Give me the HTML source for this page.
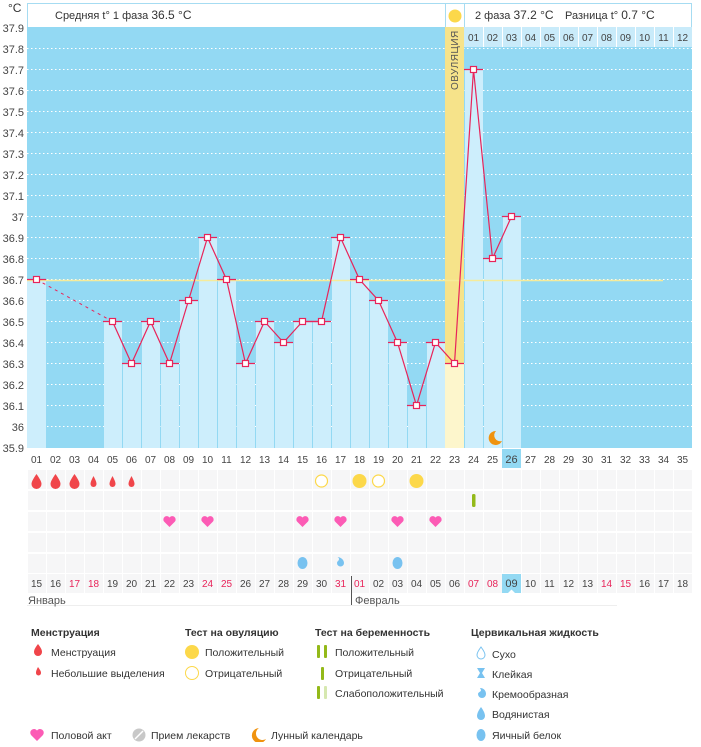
<!DOCTYPE html>
<html><head><meta charset="utf-8"><style>
body{margin:0;background:#fff;width:701px;height:742px;overflow:hidden;font-family:"Liberation Sans","DejaVu Sans",sans-serif;}
svg text{font-family:"Liberation Sans","DejaVu Sans",sans-serif;}
</style></head><body>
<svg width="701" height="742" xmlns="http://www.w3.org/2000/svg">
<!-- header -->
<rect x="27.5" y="3.5" width="664" height="24" fill="#fff" stroke="#a6dcf2"/>
<line x1="445.5" y1="3" x2="445.5" y2="27" stroke="#a6dcf2"/>
<line x1="464.5" y1="3" x2="464.5" y2="27" stroke="#a6dcf2"/>
<circle cx="455" cy="16" r="6.5" fill="#fcd84a"/>
<text x="55" y="19" font-size="11" fill="#333">Средняя t° 1 фаза <tspan font-size="12">36.5 °C</tspan></text>
<text x="475" y="19" font-size="11" fill="#333">2 фаза <tspan font-size="12">37.2 °C</tspan></text>
<text x="565" y="19" font-size="11" fill="#333">Разница t° <tspan font-size="12">0.7 °C</tspan></text>
<text x="8" y="12" font-size="12" fill="#333">°C</text>
<!-- plot bg -->
<rect x="27" y="27" width="665" height="421" fill="#93d9f3"/>
<g stroke="#fff" stroke-dasharray="1.5,2.5" stroke-width="1">
<line x1="27" x2="692" y1="48.5" y2="48.5"/><line x1="27" x2="692" y1="69.5" y2="69.5"/><line x1="27" x2="692" y1="90.5" y2="90.5"/><line x1="27" x2="692" y1="111.5" y2="111.5"/><line x1="27" x2="692" y1="132.5" y2="132.5"/><line x1="27" x2="692" y1="153.5" y2="153.5"/><line x1="27" x2="692" y1="174.5" y2="174.5"/><line x1="27" x2="692" y1="195.5" y2="195.5"/><line x1="27" x2="692" y1="216.5" y2="216.5"/><line x1="27" x2="692" y1="237.5" y2="237.5"/><line x1="27" x2="692" y1="258.5" y2="258.5"/><line x1="27" x2="692" y1="279.5" y2="279.5"/><line x1="27" x2="692" y1="300.5" y2="300.5"/><line x1="27" x2="692" y1="321.5" y2="321.5"/><line x1="27" x2="692" y1="342.5" y2="342.5"/><line x1="27" x2="692" y1="363.5" y2="363.5"/><line x1="27" x2="692" y1="384.5" y2="384.5"/><line x1="27" x2="692" y1="405.5" y2="405.5"/><line x1="27" x2="692" y1="426.5" y2="426.5"/>
</g>
<!-- y labels -->
<g font-size="11" fill="#444" text-anchor="end">
<text x="24" y="32">37.9</text><text x="24" y="53">37.8</text><text x="24" y="74">37.7</text><text x="24" y="95">37.6</text><text x="24" y="116">37.5</text><text x="24" y="137">37.4</text><text x="24" y="158">37.3</text><text x="24" y="179">37.2</text><text x="24" y="200">37.1</text><text x="24" y="221">37</text><text x="24" y="242">36.9</text><text x="24" y="263">36.8</text><text x="24" y="284">36.7</text><text x="24" y="305">36.6</text><text x="24" y="326">36.5</text><text x="24" y="347">36.4</text><text x="24" y="368">36.3</text><text x="24" y="389">36.2</text><text x="24" y="410">36.1</text><text x="24" y="431">36</text><text x="24" y="452">35.9</text>
</g>
<!-- header day row cols 24-35 -->
<rect x="464" y="27" width="228" height="20" fill="#c9ebfa"/>
<g stroke="#fff"><line x1="483.5" y1="27" x2="483.5" y2="47"/><line x1="502.5" y1="27" x2="502.5" y2="47"/><line x1="521.5" y1="27" x2="521.5" y2="47"/><line x1="540.5" y1="27" x2="540.5" y2="47"/><line x1="559.5" y1="27" x2="559.5" y2="47"/><line x1="578.5" y1="27" x2="578.5" y2="47"/><line x1="597.5" y1="27" x2="597.5" y2="47"/><line x1="616.5" y1="27" x2="616.5" y2="47"/><line x1="635.5" y1="27" x2="635.5" y2="47"/><line x1="654.5" y1="27" x2="654.5" y2="47"/><line x1="673.5" y1="27" x2="673.5" y2="47"/></g>
<g font-size="10" fill="#444" text-anchor="middle">
<text x="473.5" y="41">01</text><text x="492.5" y="41">02</text><text x="511.5" y="41">03</text><text x="530.5" y="41">04</text><text x="549.5" y="41">05</text><text x="568.5" y="41">06</text><text x="587.5" y="41">07</text><text x="606.5" y="41">08</text><text x="625.5" y="41">09</text><text x="644.5" y="41">10</text><text x="663.5" y="41">11</text><text x="682.5" y="41">12</text>
</g>
<!-- ovulation strip -->
<rect x="445" y="27" width="19" height="421" fill="#f6e38a"/>
<rect x="445" y="363" width="19" height="85" fill="#fdf6cc"/>
<text transform="translate(458,90) rotate(-90)" font-size="10" fill="#555" letter-spacing="0.5">ОВУЛЯЦИЯ</text>
<!-- bars -->
<g fill="#cdeefc">
<rect x="27" y="279" width="19" height="169"/>
<rect x="104" y="321" width="18" height="127"/><rect x="123" y="363" width="18" height="85"/><rect x="142" y="321" width="18" height="127"/><rect x="161" y="363" width="18" height="85"/><rect x="180" y="300" width="18" height="148"/><rect x="199" y="237" width="18" height="211"/><rect x="218" y="279" width="18" height="169"/><rect x="237" y="363" width="18" height="85"/><rect x="256" y="321" width="18" height="127"/><rect x="275" y="342" width="18" height="106"/><rect x="294" y="321" width="18" height="127"/><rect x="313" y="321" width="18" height="127"/><rect x="332" y="237" width="18" height="211"/><rect x="351" y="279" width="18" height="169"/><rect x="370" y="300" width="18" height="148"/><rect x="389" y="342" width="18" height="106"/><rect x="408" y="405" width="18" height="43"/><rect x="427" y="342" width="18" height="106"/>
<rect x="465" y="69" width="18" height="379"/><rect x="484" y="258" width="18" height="190"/><rect x="503" y="216" width="18" height="232"/>
</g>
<!-- mean line -->
<line x1="27" y1="280.5" x2="663" y2="280.5" stroke="#f6eb9a" stroke-width="1.5"/>
<!-- temperature line -->
<line x1="36.5" y1="279.5" x2="112.5" y2="321.5" stroke="#e8245a" stroke-dasharray="3,4"/>
<polyline fill="none" stroke="#e8245a" stroke-width="1.2" points="112.5,321.5 131.5,363.5 150.5,321.5 169.5,363.5 188.5,300.5 207.5,237.5 226.5,279.5 245.5,363.5 264.5,321.5 283.5,342.5 302.5,321.5 321.5,321.5 340.5,237.5 359.5,279.5 378.5,300.5 397.5,342.5 416.5,405.5 435.5,342.5 454.5,363.5 473.5,69.5 492.5,258.5 511.5,216.5"/>
<g stroke="#e8245a" stroke-width="1.2">
<line x1="27" x2="46" y1="279.5" y2="279.5"/><line x1="103" x2="122" y1="321.5" y2="321.5"/><line x1="122" x2="141" y1="363.5" y2="363.5"/><line x1="141" x2="160" y1="321.5" y2="321.5"/><line x1="160" x2="179" y1="363.5" y2="363.5"/><line x1="179" x2="198" y1="300.5" y2="300.5"/><line x1="198" x2="217" y1="237.5" y2="237.5"/><line x1="217" x2="236" y1="279.5" y2="279.5"/><line x1="236" x2="255" y1="363.5" y2="363.5"/><line x1="255" x2="274" y1="321.5" y2="321.5"/><line x1="274" x2="293" y1="342.5" y2="342.5"/><line x1="293" x2="312" y1="321.5" y2="321.5"/><line x1="312" x2="331" y1="321.5" y2="321.5"/><line x1="331" x2="350" y1="237.5" y2="237.5"/><line x1="350" x2="369" y1="279.5" y2="279.5"/><line x1="369" x2="388" y1="300.5" y2="300.5"/><line x1="388" x2="407" y1="342.5" y2="342.5"/><line x1="407" x2="426" y1="405.5" y2="405.5"/><line x1="426" x2="445" y1="342.5" y2="342.5"/><line x1="445" x2="464" y1="363.5" y2="363.5"/><line x1="464" x2="483" y1="69.5" y2="69.5"/><line x1="483" x2="502" y1="258.5" y2="258.5"/><line x1="502" x2="521" y1="216.5" y2="216.5"/>
</g>
<g fill="#fff" stroke="#e8245a" stroke-width="1.2">
<rect x="33.5" y="276.5" width="6" height="6"/><rect x="109.5" y="318.5" width="6" height="6"/><rect x="128.5" y="360.5" width="6" height="6"/><rect x="147.5" y="318.5" width="6" height="6"/><rect x="166.5" y="360.5" width="6" height="6"/><rect x="185.5" y="297.5" width="6" height="6"/><rect x="204.5" y="234.5" width="6" height="6"/><rect x="223.5" y="276.5" width="6" height="6"/><rect x="242.5" y="360.5" width="6" height="6"/><rect x="261.5" y="318.5" width="6" height="6"/><rect x="280.5" y="339.5" width="6" height="6"/><rect x="299.5" y="318.5" width="6" height="6"/><rect x="318.5" y="318.5" width="6" height="6"/><rect x="337.5" y="234.5" width="6" height="6"/><rect x="356.5" y="276.5" width="6" height="6"/><rect x="375.5" y="297.5" width="6" height="6"/><rect x="394.5" y="339.5" width="6" height="6"/><rect x="413.5" y="402.5" width="6" height="6"/><rect x="432.5" y="339.5" width="6" height="6"/><rect x="451.5" y="360.5" width="6" height="6"/><rect x="470.5" y="66.5" width="6" height="6"/><rect x="489.5" y="255.5" width="6" height="6"/><rect x="508.5" y="213.5" width="6" height="6"/>
</g>
<!-- moon -->
<path d="M496,431 a7,7 0 1 0 6,10 a6,6 0 0 1 -6,-10z" fill="#f0930f"/>
<!-- day numbers -->
<rect x="502" y="449" width="19" height="19" fill="#93d9f3"/>
<g font-size="10" fill="#444" text-anchor="middle">
<text x="36.5" y="463">01</text><text x="55.5" y="463">02</text><text x="74.5" y="463">03</text><text x="93.5" y="463">04</text><text x="112.5" y="463">05</text><text x="131.5" y="463">06</text><text x="150.5" y="463">07</text><text x="169.5" y="463">08</text><text x="188.5" y="463">09</text><text x="207.5" y="463">10</text><text x="226.5" y="463">11</text><text x="245.5" y="463">12</text><text x="264.5" y="463">13</text><text x="283.5" y="463">14</text><text x="302.5" y="463">15</text><text x="321.5" y="463">16</text><text x="340.5" y="463">17</text><text x="359.5" y="463">18</text><text x="378.5" y="463">19</text><text x="397.5" y="463">20</text><text x="416.5" y="463">21</text><text x="435.5" y="463">22</text><text x="454.5" y="463">23</text><text x="473.5" y="463">24</text><text x="492.5" y="463">25</text><text x="511.5" y="463" font-size="11">26</text><text x="530.5" y="463">27</text><text x="549.5" y="463">28</text><text x="568.5" y="463">29</text><text x="587.5" y="463">30</text><text x="606.5" y="463">31</text><text x="625.5" y="463">32</text><text x="644.5" y="463">33</text><text x="663.5" y="463">34</text><text x="682.5" y="463">35</text>
</g>
<!-- grid rows -->
<defs><pattern id="cells" x="27" y="0" width="19" height="742" patternUnits="userSpaceOnUse"><rect x="1" y="0" width="18" height="742" fill="#f6f6f7"/></pattern></defs>
<g fill="url(#cells)">
<rect x="27" y="470" width="665" height="19"/><rect x="27" y="491" width="665" height="19"/><rect x="27" y="512" width="665" height="19"/><rect x="27" y="533" width="665" height="19"/><rect x="27" y="554" width="665" height="19"/><rect x="27" y="574" width="665" height="19"/>
</g>
<!-- menstruation drops -->
<g fill="#f0454a">
<path d="M36.5,474 C33,479 31.5,482 31.5,484 a5,5 0 0 0 10,0 C41.5,482 40,479 36.5,474z"/>
<path d="M55.5,474 C52,479 50.5,482 50.5,484 a5,5 0 0 0 10,0 C60.5,482 59,479 55.5,474z"/>
<path d="M74.5,474 C71,479 69.5,482 69.5,484 a5,5 0 0 0 10,0 C79.5,482 78,479 74.5,474z"/>
<path d="M93.5,476 C91.5,480 90.5,482 90.5,484 a3,3 0 0 0 6,0 C96.5,482 95.5,480 93.5,476z"/>
<path d="M112.5,476 C110.5,480 109.5,482 109.5,484 a3,3 0 0 0 6,0 C115.5,482 114.5,480 112.5,476z"/>
<path d="M131.5,476 C129.5,480 128.5,482 128.5,484 a3,3 0 0 0 6,0 C134.5,482 133.5,480 131.5,476z"/>
</g>
<!-- ovulation tests -->
<circle cx="321.5" cy="481" r="6" fill="#fff" stroke="#fcd84a" stroke-width="1.2"/>
<circle cx="359.5" cy="481" r="7" fill="#fcd84a"/>
<circle cx="378.5" cy="481" r="6" fill="#fff" stroke="#fcd84a" stroke-width="1.2"/>
<circle cx="416.5" cy="481" r="7" fill="#fcd84a"/>
<!-- pregnancy test -->
<rect x="472" y="494" width="3.5" height="13" rx="1.5" fill="#93b919"/>
<!-- hearts -->
<g fill="#fc5bb5">
<path d="M169.5,527 l-5.5,-5.5 a3,3 0 0 1 5.5,-4 a3,3 0 0 1 5.5,4z"/>
<path d="M207.5,527 l-5.5,-5.5 a3,3 0 0 1 5.5,-4 a3,3 0 0 1 5.5,4z"/>
<path d="M302.5,527 l-5.5,-5.5 a3,3 0 0 1 5.5,-4 a3,3 0 0 1 5.5,4z"/>
<path d="M340.5,527 l-5.5,-5.5 a3,3 0 0 1 5.5,-4 a3,3 0 0 1 5.5,4z"/>
<path d="M397.5,527 l-5.5,-5.5 a3,3 0 0 1 5.5,-4 a3,3 0 0 1 5.5,4z"/>
<path d="M435.5,527 l-5.5,-5.5 a3,3 0 0 1 5.5,-4 a3,3 0 0 1 5.5,4z"/>
</g>
<!-- cervical -->
<g fill="#78c2f0">
<ellipse cx="302.5" cy="563" rx="5" ry="6"/>
<path d="M337,557 c4,0 7,3 7,6 a3.5,3.5 0 0 1 -7,0 c0,-2 2,-2 2,-4 c0,-1 -1,-2 -2,-2z"/>
<ellipse cx="397.5" cy="563" rx="5" ry="6"/>
</g>
<!-- dates -->
<rect x="502" y="574" width="19" height="19" fill="#93d9f3"/>
<path d="M508,593 l3.5,-3.5 l3.5,3.5z" fill="#fff"/>
<g font-size="10" fill="#444" text-anchor="middle">
<text x="36.5" y="587">15</text><text x="55.5" y="587">16</text><text x="74.5" y="587" fill="#e8245a">17</text><text x="93.5" y="587" fill="#e8245a">18</text><text x="112.5" y="587">19</text><text x="131.5" y="587">20</text><text x="150.5" y="587">21</text><text x="169.5" y="587">22</text><text x="188.5" y="587">23</text><text x="207.5" y="587" fill="#e8245a">24</text><text x="226.5" y="587" fill="#e8245a">25</text><text x="245.5" y="587">26</text><text x="264.5" y="587">27</text><text x="283.5" y="587">28</text><text x="302.5" y="587">29</text><text x="321.5" y="587">30</text><text x="340.5" y="587" fill="#e8245a">31</text><text x="359.5" y="587" fill="#e8245a">01</text><text x="378.5" y="587">02</text><text x="397.5" y="587">03</text><text x="416.5" y="587">04</text><text x="435.5" y="587">05</text><text x="454.5" y="587">06</text><text x="473.5" y="587" fill="#e8245a">07</text><text x="492.5" y="587" fill="#e8245a">08</text><text x="511.5" y="587" font-size="11">09</text><text x="530.5" y="587">10</text><text x="549.5" y="587">11</text><text x="568.5" y="587">12</text><text x="587.5" y="587">13</text><text x="606.5" y="587" fill="#e8245a">14</text><text x="625.5" y="587" fill="#e8245a">15</text><text x="644.5" y="587">16</text><text x="663.5" y="587">17</text><text x="682.5" y="587">18</text>
</g>
<line x1="351.5" y1="576" x2="351.5" y2="605" stroke="#555"/>
<line x1="27" y1="605.5" x2="617" y2="605.5" stroke="#eee"/>
<text x="28" y="604" font-size="11" fill="#555">Январь</text>
<text x="355" y="604" font-size="11" fill="#555">Февраль</text>
<!-- legend -->
<g font-size="10.5" fill="#333" font-weight="600">
<text x="31" y="636">Менструация</text><text x="185" y="636">Тест на овуляцию</text><text x="315" y="636">Тест на беременность</text><text x="471" y="636">Цервикальная жидкость</text>
</g>
<g font-size="10.5" fill="#333">
<text x="51" y="656">Менструация</text><text x="51" y="677">Небольшие выделения</text>
<text x="205" y="656">Положительный</text><text x="205" y="677">Отрицательный</text>
<text x="335" y="656">Положительный</text><text x="335" y="677">Отрицательный</text><text x="335" y="697">Слабоположительный</text>
<text x="492" y="658">Сухо</text><text x="492" y="678">Клейкая</text><text x="492" y="698">Кремообразная</text><text x="492" y="718">Водянистая</text><text x="492" y="739">Яичный белок</text>
<text x="51" y="739">Половой акт</text><text x="151" y="739">Прием лекарств</text><text x="271" y="739">Лунный календарь</text>
</g>
<g fill="#f0454a">
<path d="M38,644 C35,648 34,650 34,652 a4,4 0 0 0 8,0 C42,650 41,648 38,644z"/>
<path d="M38,667 C36.5,670 36,671 36,673 a2.5,2.5 0 0 0 5,0 C41,671 40,670 38,667z"/>
</g>
<circle cx="192" cy="652" r="7" fill="#fcd84a"/>
<circle cx="192" cy="673" r="6.5" fill="#fff" stroke="#fcd84a"/>
<g fill="#93b919"><rect x="317" y="645" width="3" height="13" rx="1"/><rect x="324" y="645" width="3" height="13" rx="1"/><rect x="321" y="667" width="3" height="13" rx="1"/><rect x="317" y="686" width="3" height="13" rx="1"/></g>
<rect x="324" y="686" width="3" height="13" rx="1" fill="#d6e8b0"/>
<g fill="#78c2f0">
<path d="M481,647 C478,651 477,653 477,655 a4,4 0 0 0 8,0 C485,653 484,651 481,647z" fill="#fff" stroke="#78c2f0"/>
<path d="M477,668 h8 l-3,5 l3,5 h-8 l3,-5z"/>
<path d="M480,688 c4,0 6,3 6,6 a4,4 0 0 1 -8,0 c0,-2 3,-2 3,-4z"/>
<path d="M481,707 C478,711 477,714 477,716 a4,4 0 0 0 8,0 C485,714 484,711 481,707z"/>
<ellipse cx="481" cy="735" rx="4.5" ry="6"/>
</g>
<path d="M37,741 l-6,-6 a3.3,3.3 0 0 1 6,-4.5 a3.3,3.3 0 0 1 6,4.5z" fill="#fc5bb5"/>
<circle cx="139" cy="735" r="6.5" fill="#c8c8c8"/><line x1="135" y1="739" x2="143" y2="731" stroke="#fff" stroke-width="1.5"/>
<path d="M259,728 a7.5,7.5 0 1 0 7,11 a6.5,6.5 0 0 1 -7,-11z" fill="#f0930f"/>
</svg>
</body></html>
